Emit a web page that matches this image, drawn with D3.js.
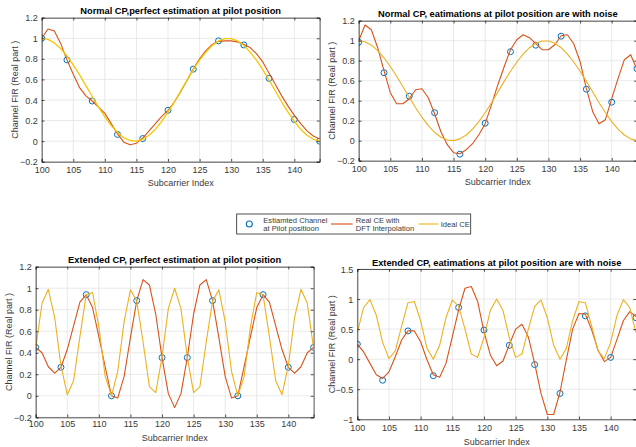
<!DOCTYPE html>
<html>
<head>
<meta charset="utf-8">
<script src="https://cdn.jsdelivr.net/npm/d3@7"></script>
<style>
  html, body { margin: 0; padding: 0; background: #fff; }
  svg { display: block; font-family: "Liberation Sans", Arial, Helvetica, sans-serif; }
</style>
</head>
<body>
<svg id="fig" width="636" height="447"></svg>
<script>
// Subcarrier indices and pilot positions
const subcarriers = [100,101,102,103,104,105,106,107,108,109,110,111,112,113,114,115,116,117,118,119,120,121,122,
  123,124,125,126,127,128,129,130,131,132,133,134,135,136,137,138,139,140,141,142,143,144];
const pilots = [100,104,108,112,116,120,124,128,132,136,140,144];

// Normal CP: ideal channel (real part)
const idealNormal = [1.000,0.989,0.955,0.901,0.829,0.742,0.644,0.540,0.434,0.330,0.235,0.151,0.084,0.034,0.006,0.001,
  0.018,0.057,0.116,0.191,0.282,0.380,0.487,0.593,0.695,0.787,0.865,0.930,0.974,0.997,0.997,0.974,0.930,0.865,0.787,
  0.695,0.593,0.487,0.380,0.282,0.191,0.116,0.057,0.018,0.001];

// Normal CP, perfect pilots
const pilotNormalPerfect = [1.0,0.79,0.39,0.065,0.025,0.30,0.70,0.975,0.935,0.61,0.21,0.0];
const dftNormalPerfect = [1.00,1.09,1.07,0.95,0.79,0.65,0.52,0.44,0.39,0.33,0.27,0.17,0.07,-0.01,-0.035,-0.02,0.03,
  0.10,0.17,0.24,0.30,0.38,0.48,0.59,0.70,0.80,0.88,0.94,0.97,0.975,0.975,0.965,0.94,0.91,0.85,0.77,0.66,0.55,0.44,
  0.34,0.25,0.17,0.10,0.05,0.02];

// Normal CP, noisy pilots
const pilotNormalNoisy = [0.985,0.68,0.445,0.28,-0.135,0.175,0.89,0.955,1.045,0.515,0.385,0.72];
const dftNormalNoisy = [1.00,1.157,1.11,0.93,0.70,0.48,0.37,0.37,0.42,0.51,0.52,0.43,0.27,0.09,-0.04,-0.12,-0.13,
  -0.09,-0.03,0.06,0.17,0.36,0.56,0.74,0.91,1.01,1.06,1.03,0.97,0.91,0.91,0.96,1.05,1.06,0.97,0.79,0.52,0.29,0.17,
  0.21,0.42,0.62,0.81,0.86,0.71];

// Extended CP: ideal channel (real part)
const idealExtended = [0.44,0.86,0.99,0.73,0.28,0.01,0.14,0.55,0.94,0.96,0.64,0.18,0.00,0.23,0.69,0.985,0.88,0.50,
  0.085,0.03,0.36,0.81,1.00,0.81,0.36,0.03,0.085,0.50,0.88,0.985,0.69,0.23,0.00,0.18,0.64,0.96,0.94,0.55,0.14,0.01,
  0.28,0.73,0.99,0.86,0.44];

// Extended CP, perfect pilots
const pilotExtPerfect = [0.45,0.265,0.94,0.0,0.885,0.355,0.355,0.885,0.0,0.94,0.265,0.45];
const dftExtPerfect = [0.45,0.40,0.27,0.21,0.265,0.43,0.65,0.87,0.94,0.82,0.55,0.27,0.00,-0.02,0.18,0.54,0.885,1.08,
  1.03,0.76,0.355,0.02,-0.11,0.02,0.355,0.76,1.03,1.08,0.885,0.54,0.18,-0.02,0.00,0.27,0.55,0.82,0.94,0.87,0.65,0.43,
  0.265,0.21,0.27,0.40,0.45];

// Extended CP, noisy pilots
const pilotExtNoisy = [0.25,-0.35,0.47,-0.275,0.86,0.485,0.23,-0.09,-0.57,0.72,0.03,0.69];
const dftExtNoisy = [0.25,0.12,-0.07,-0.26,-0.32,-0.21,0.04,0.32,0.47,0.47,0.29,-0.01,-0.26,-0.30,-0.07,0.37,0.82,
  1.18,1.21,0.96,0.46,0.07,-0.11,-0.03,0.24,0.50,0.58,0.37,-0.07,-0.57,-0.92,-0.92,-0.55,-0.01,0.50,0.76,0.75,0.49,
  0.15,-0.04,0.03,0.33,0.64,0.79,0.71];

// Axis ticks
const xTicks = [100,105,110,115,120,125,130,135,140];
const yTicksNormal = [-0.2,0,0.2,0.4,0.6,0.8,1,1.2];
const yTicksNoisyExt = [-1,-0.5,0,0.5,1,1.5];

const titles = [
  "Normal CP,perfect estimation at pilot position",
  "Normal CP, eatimations at pilot position are with noise",
  "Extended CP, perfect estimation at pilot position",
  "Extended CP, eatimations at pilot position are with noise"
];
const xLabel = "Subcarrier Index";
const yLabel = "Channel FIR (Real part )";
const legendLabels = [["Estiamted Channel","at Pilot positioon"],["Real CE with","DFT Interpolation"],["Ideal CE"]];

const C_BLUE = "#0072BD", C_RED = "#D95319", C_YEL = "#EDB120", C_YEL_BRIGHT = "#F4C900";
const AX = "#262626", GRID = "#e3e3e3", TXT = "#3a3a3a";

const svg = d3.select("#fig");

const panels = [
  { box:[41.7,17.7,319.6,161.7], ydom:[-0.2,1.2], yticks:yTicksNormal, title:titles[0],
    pilotsY:pilotNormalPerfect, dft:dftNormalPerfect, ideal:idealNormal, idealColor:C_YEL_BRIGHT, idealW:1.3,
    titleY:11, xtY:170, xlY:182.7, ylX:15 },
  { box:[358.7,20.7,637,160.7], ydom:[-0.2,1.2], yticks:yTicksNormal, title:titles[1],
    pilotsY:pilotNormalNoisy, dft:dftNormalNoisy, ideal:idealNormal, idealColor:C_YEL, idealW:1.1,
    titleY:13.3, xtY:168.3, xlY:181.7, ylX:332 },
  { box:[35.7,266.7,313.6,417.3], ydom:[-0.2,1.2], yticks:yTicksNormal, title:titles[2],
    pilotsY:pilotExtPerfect, dft:dftExtPerfect, ideal:idealExtended, idealColor:C_YEL, idealW:1.1,
    titleY:260, xtY:424, xlY:437.7, ylX:9 },
  { box:[357.3,269,636,419.3], ydom:[-1,1.5], yticks:yTicksNoisyExt, title:titles[3],
    pilotsY:pilotExtNoisy, dft:dftExtNoisy, ideal:idealExtended, idealColor:C_YEL, idealW:1.1,
    titleY:262.3, xtY:427.3, xlY:441.7, ylX:332 }
];

const fmt = v => d3.format("~g")(+v.toFixed(2));

panels.forEach((p, i) => {
  const [x0, y0, x1, y1] = p.box;
  const x = d3.scaleLinear().domain([100, 144]).range([x0, x1]);
  const y = d3.scaleLinear().domain(p.ydom).range([y1, y0]);
  const g = svg.append("g");
  const clipId = "clip" + i;
  svg.append("clipPath").attr("id", clipId)
    .append("rect").attr("x", x0).attr("y", y0).attr("width", x1 - x0).attr("height", y1 - y0);

  // grid
  g.append("g").selectAll("line.gx").data(xTicks).join("line")
    .attr("x1", d => x(d)).attr("x2", d => x(d)).attr("y1", y0).attr("y2", y1)
    .attr("stroke", GRID).attr("stroke-width", 0.8);
  g.append("g").selectAll("line.gy").data(p.yticks).join("line")
    .attr("y1", d => y(d)).attr("y2", d => y(d)).attr("x1", x0).attr("x2", x1)
    .attr("stroke", GRID).attr("stroke-width", 0.8);

  // data
  const plot = g.append("g").attr("clip-path", `url(#${clipId})`);
  plot.selectAll("circle").data(pilots).join("circle")
    .attr("cx", d => x(d)).attr("cy", (d, j) => y(p.pilotsY[j])).attr("r", 3)
    .attr("fill", "none").attr("stroke", C_BLUE).attr("stroke-width", 1);
  const line = d3.line().x((d, j) => x(subcarriers[j])).y(d => y(d));
  plot.append("path").datum(p.dft).attr("d", line)
    .attr("fill", "none").attr("stroke", C_RED).attr("stroke-width", 1.1).attr("stroke-linejoin", "round");
  plot.append("path").datum(p.ideal).attr("d", line)
    .attr("fill", "none").attr("stroke", p.idealColor).attr("stroke-width", p.idealW).attr("stroke-linejoin", "round");

  // axes via d3 axis generators (inward ticks on all sides)
  const tk = 2.8;
  const bottom = g.append("g").attr("transform", `translate(0,${y1})`)
    .call(d3.axisBottom(x).tickValues(xTicks).tickSize(-tk).tickPadding(0).tickFormat(d3.format("d")));
  const top = g.append("g").attr("transform", `translate(0,${y0})`)
    .call(d3.axisTop(x).tickValues(xTicks).tickSize(-tk).tickFormat(""));
  const left = g.append("g").attr("transform", `translate(${x0},0)`)
    .call(d3.axisLeft(y).tickValues(p.yticks).tickSize(-tk).tickPadding(0).tickFormat(fmt));
  const right = g.append("g").attr("transform", `translate(${x1},0)`)
    .call(d3.axisRight(y).tickValues(p.yticks).tickSize(-tk).tickFormat(""));
  [bottom, top, left, right].forEach(a => {
    a.select(".domain").attr("stroke", AX).attr("stroke-width", 0.8);
    a.selectAll(".tick line").attr("stroke", AX).attr("stroke-width", 0.8);
  });
  bottom.selectAll(".tick text").attr("y", null).attr("dy", null)
    .attr("transform", `translate(0,${p.xtY - y1 + 3.2})`)
    .attr("font-size", 9).attr("fill", TXT).attr("font-family", null);
  left.selectAll(".tick text").attr("x", -4).attr("dy", "0.34em")
    .attr("font-size", 9).attr("fill", TXT).attr("font-family", null);
  [bottom, top, left, right].forEach(a => a.attr("font-family", null).attr("font-size", null));

  // title and labels
  g.append("text").attr("x", (x0 + x1) / 2).attr("y", p.titleY + 3.3).attr("text-anchor", "middle")
    .attr("font-size", 9.3).attr("font-weight", "bold").attr("fill", "#000").text(p.title);
  g.append("text").attr("x", (x0 + x1) / 2).attr("y", p.xlY + 3.2).attr("text-anchor", "middle")
    .attr("font-size", 9).attr("fill", TXT).text(xLabel);
  g.append("text").attr("transform", `translate(${p.ylX + 3.2},${(y0 + y1) / 2}) rotate(-90)`)
    .attr("text-anchor", "middle").attr("font-size", 9).attr("fill", TXT).text(yLabel);
});

// legend
const lg = svg.append("g").attr("font-size", 7.6).attr("fill", TXT);
lg.append("rect").attr("x", 236.7).attr("y", 214).attr("width", 234).attr("height", 20)
  .attr("fill", "#fff").attr("stroke", AX).attr("stroke-width", 0.8);
lg.append("circle").attr("cx", 249.3).attr("cy", 224).attr("r", 3)
  .attr("fill", "none").attr("stroke", C_BLUE).attr("stroke-width", 1.1);
lg.append("line").attr("x1", 331).attr("x2", 352.7).attr("y1", 224).attr("y2", 224)
  .attr("stroke", C_RED).attr("stroke-width", 1.1);
lg.append("line").attr("x1", 418.7).attr("x2", 438.3).attr("y1", 224).attr("y2", 224)
  .attr("stroke", C_YEL).attr("stroke-width", 1.1);
const legendX = [263.3, 355.7, 440.7];
legendLabels.forEach((lines, k) => {
  const t = lg.append("text").attr("x", legendX[k]).attr("fill", TXT);
  if (lines.length === 2) {
    t.append("tspan").attr("x", legendX[k]).attr("y", 222.6).text(lines[0]);
    t.append("tspan").attr("x", legendX[k]).attr("y", 231).text(lines[1]);
  } else {
    t.attr("y", 226.8).text(lines[0]);
  }
});
</script>
</body>
</html>
